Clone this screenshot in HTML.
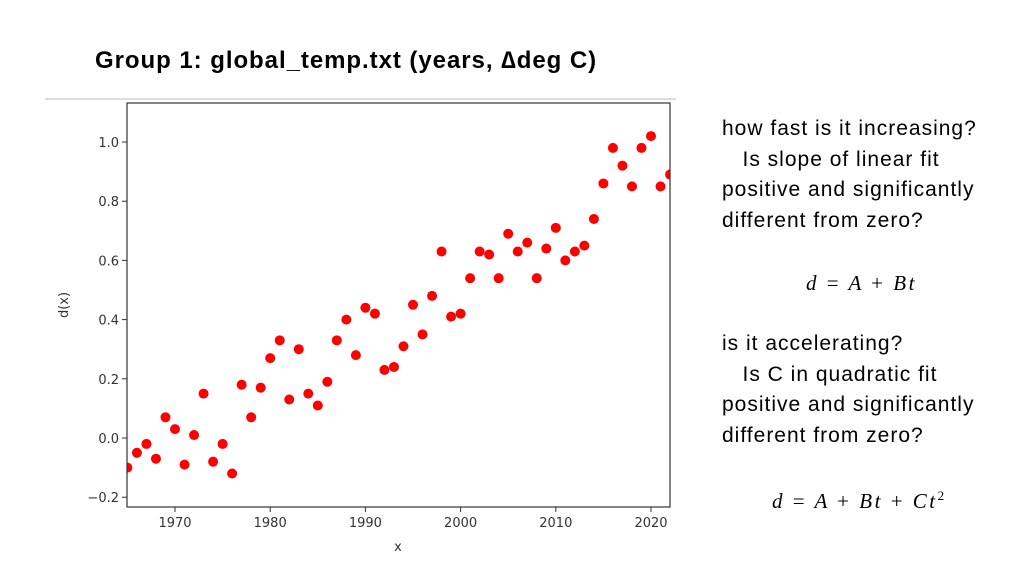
<!DOCTYPE html>
<html><head><meta charset="utf-8"><style>
body{margin:0;width:1024px;height:576px;background:#fff;position:relative;overflow:hidden;font-family:"Liberation Sans",sans-serif}
.t{position:absolute;color:#000;font-size:21px;line-height:30.5px;letter-spacing:1px}
.eq{letter-spacing:2.5px}
</style></head><body>
<div style="position:absolute;left:95px;top:47px;font-size:24px;font-weight:bold;letter-spacing:0.95px">Group 1: global_temp.txt (years, ∆deg C)</div>
<div style="position:absolute;left:45px;top:98px;width:631px;height:2px;background:#ddd"></div>
<svg width="1024" height="576" style="position:absolute;left:0;top:0" id="chart"></svg>
<div class="t" style="left:722px;top:114px">how fast is it increasing?<br>&nbsp;&nbsp;&nbsp;Is slope of linear fit<br>positive and significantly<br>different from zero?</div>
<div class="t eq" style="left:806px;top:268px;font-family:'Liberation Serif',serif;font-style:italic">d <span style="font-style:normal">=</span> A <span style="font-style:normal">+</span> Bt</div>
<div class="t" style="left:722px;top:329px">is it accelerating?<br>&nbsp;&nbsp;&nbsp;Is C in quadratic fit<br>positive and significantly<br>different from zero?</div>
<div class="t eq" style="left:772px;top:481px;font-family:'Liberation Serif',serif;font-style:italic">d <span style="font-style:normal">=</span> A <span style="font-style:normal">+</span> Bt <span style="font-style:normal">+</span> Ct<sup style="font-size:13px;font-style:normal">2</sup></div>
<script>
const years=[1965,1966,1967,1968,1969,1970,1971,1972,1973,1974,1975,1976,1977,1978,1979,1980,1981,1982,1983,1984,1985,1986,1987,1988,1989,1990,1991,1992,1993,1994,1995,1996,1997,1998,1999,2000,2001,2002,2003,2004,2005,2006,2007,2008,2009,2010,2011,2012,2013,2014,2015,2016,2017,2018,2019,2020,2021,2022];
const values=[-0.10,-0.05,-0.02,-0.07,0.07,0.03,-0.09,0.01,0.15,-0.08,-0.02,-0.12,0.18,0.07,0.17,0.27,0.33,0.13,0.30,0.15,0.11,0.19,0.33,0.40,0.28,0.44,0.42,0.23,0.24,0.31,0.45,0.35,0.48,0.63,0.41,0.42,0.54,0.63,0.62,0.54,0.69,0.63,0.66,0.54,0.64,0.71,0.60,0.63,0.65,0.74,0.86,0.98,0.92,0.85,0.98,1.02,0.85,0.89];
const xTicks=[1970,1980,1990,2000,2010,2020];
const yTicks=[-0.2,0.0,0.2,0.4,0.6,0.8,1.0];
const L=127,R=670,T=103,B=507;
const sx=v=>175+(v-1970)*9.52;
const sy=v=>438-v*296;
const svg=document.getElementById('chart');const NS='http://www.w3.org/2000/svg';
function mk(t,a,p){const e=document.createElementNS(NS,t);for(const k in a)e.setAttribute(k,a[k]);(p||svg).appendChild(e);return e;}
const clip=mk('clipPath',{id:'c'});mk('rect',{x:L,y:T,width:R-L,height:B-T},clip);
const g=mk('g',{'clip-path':'url(#c)'});
years.forEach((y,i)=>{const c=mk('circle',{cx:sx(y),cy:sy(values[i]),r:5,fill:'#ff0000'},g);

});
const f=mk('rect',{x:L,y:T,width:R-L,height:B-T,fill:'none',stroke:'#333','stroke-width':1.2});


xTicks.forEach(v=>{mk('line',{x1:sx(v),x2:sx(v),y1:B,y2:B+5,stroke:'#333'});
const t=mk('text',{x:sx(v),y:B+20,'text-anchor':'middle','font-size':13,fill:'#333','font-family':'DejaVu Sans, sans-serif'});t.textContent=v;

});
yTicks.forEach(v=>{mk('line',{x1:L-5,x2:L,y1:sy(v),y2:sy(v),stroke:'#333'});
const t=mk('text',{x:L-8,y:sy(v)+5,'text-anchor':'end','font-size':13,fill:'#333','font-family':'DejaVu Sans, sans-serif'});t.textContent=(v<0?'\u2212':'')+Math.abs(v).toFixed(1);

});
const xl=mk('text',{x:398,y:551,'text-anchor':'middle','font-size':13,fill:'#333','font-family':'DejaVu Sans, sans-serif'});xl.textContent='x';


const yl=mk('text',{x:68,y:305,'text-anchor':'middle','font-size':13,fill:'#333','font-family':'DejaVu Sans, sans-serif',transform:'rotate(-90 68 305)'});yl.textContent='d(x)';


</script>
</body></html>
